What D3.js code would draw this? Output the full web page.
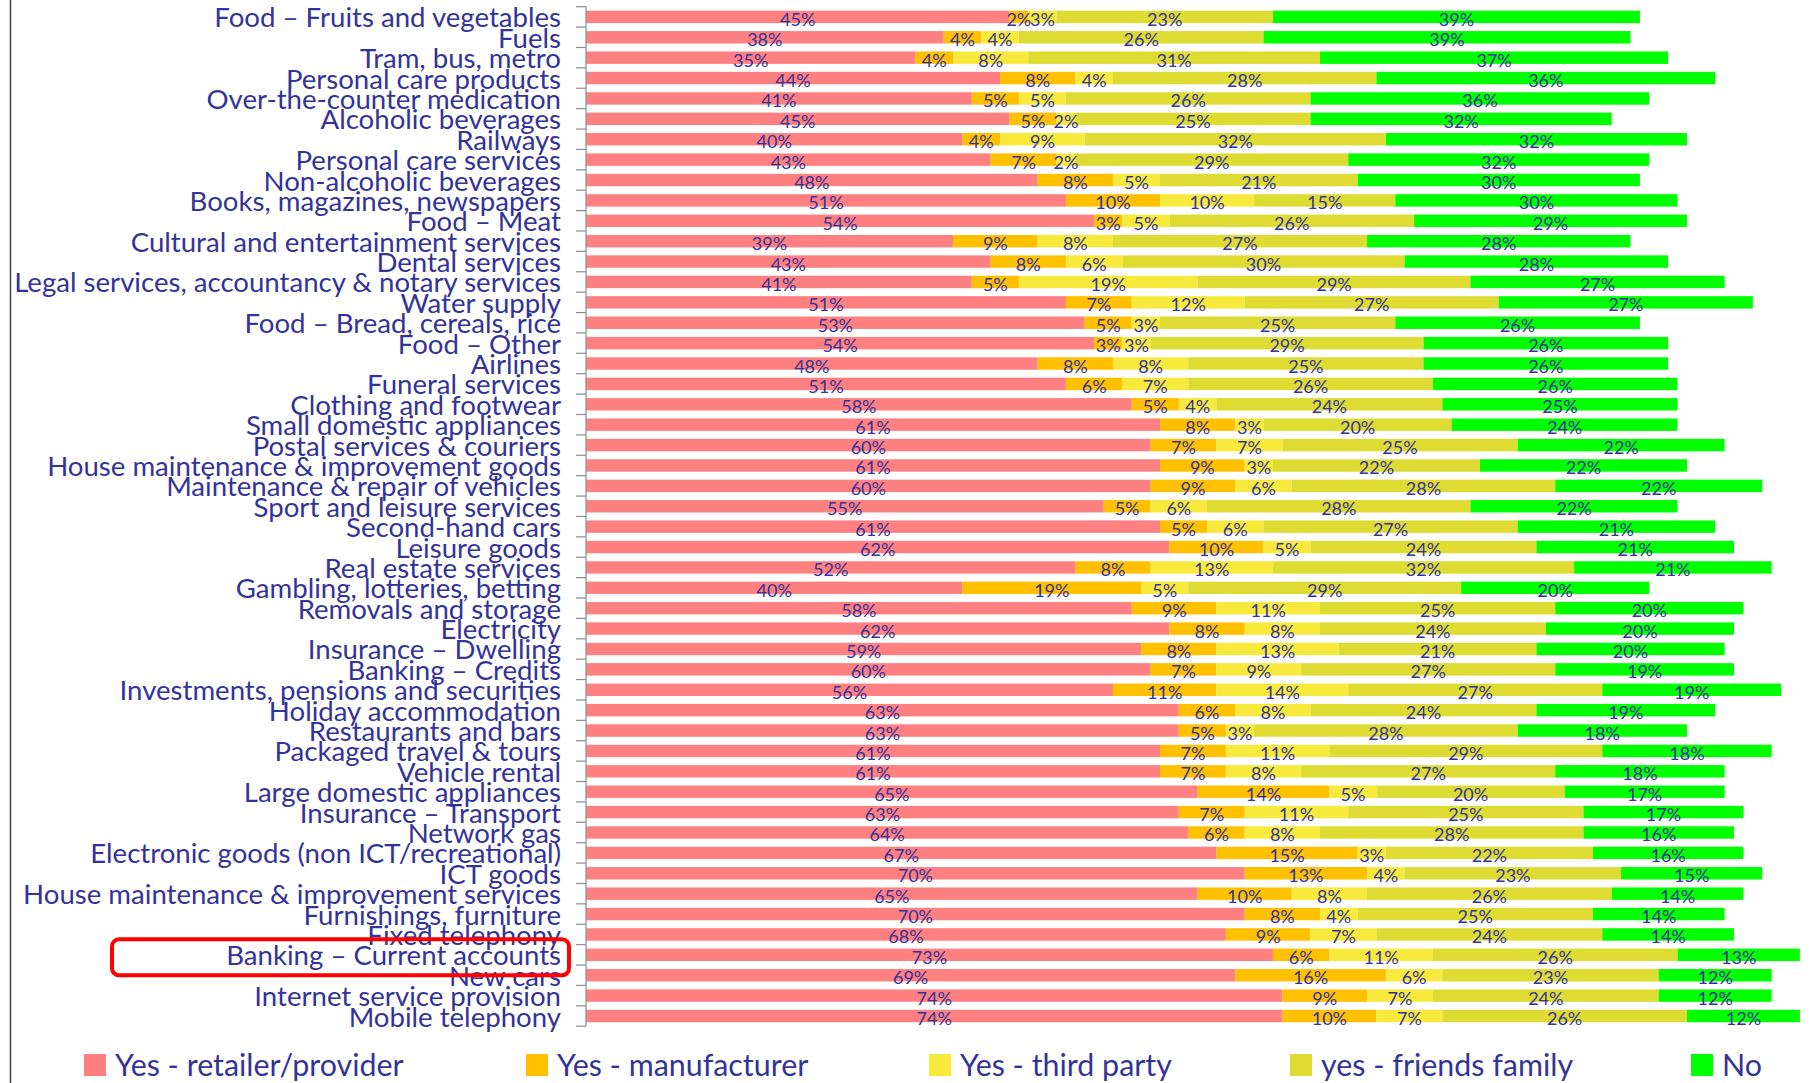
<!DOCTYPE html>
<html>
<head>
<meta charset="utf-8">
<script src="https://cdn.jsdelivr.net/npm/d3@7"></script>
<style>
  html, body { margin: 0; padding: 0; background: #ffffff; }
  svg { display: block; }
</style>
</head>
<body>
<svg id="chart" width="1814" height="1083"></svg>
<script>
// Who people turn to when they have a problem, by market (share of respondents)
const categories = [
  "Food – Fruits and vegetables", "Fuels", "Tram, bus, metro", "Personal care products",
  "Over-the-counter medication", "Alcoholic beverages", "Railways", "Personal care services",
  "Non-alcoholic beverages", "Books, magazines, newspapers", "Food – Meat",
  "Cultural and entertainment services", "Dental services",
  "Legal services, accountancy & notary services", "Water supply", "Food – Bread, cereals, rice",
  "Food – Other", "Airlines", "Funeral services", "Clothing and footwear",
  "Small domestic appliances", "Postal services & couriers", "House maintenance & improvement goods",
  "Maintenance & repair of vehicles", "Sport and leisure services", "Second-hand cars",
  "Leisure goods", "Real estate services", "Gambling, lotteries, betting", "Removals and storage",
  "Electricity", "Insurance – Dwelling", "Banking – Credits", "Investments, pensions and securities",
  "Holiday accommodation", "Restaurants and bars", "Packaged travel & tours", "Vehicle rental",
  "Large domestic appliances", "Insurance – Transport", "Network gas",
  "Electronic goods (non ICT/recreational)", "ICT goods", "House maintenance & improvement services",
  "Furnishings, furniture", "Fixed telephony", "Banking – Current accounts", "New cars",
  "Internet service provision", "Mobile telephony"
];

const retailer      = [45,38,35,44,41,45,40,43,48,51,54,39,43,41,51,53,54,48,51,58,61,60,61,60,55,61,62,52,40,58,62,59,60,56,63,63,61,61,65,63,64,67,70,65,70,68,73,69,74,74];
const manufacturer  = [ 2, 4, 4, 8, 5, 5, 4, 7, 8,10, 3, 9, 8, 5, 7, 5, 3, 8, 6, 5, 8, 7, 9, 9, 5, 5,10, 8,19, 9, 8, 8, 7,11, 6, 5, 7, 7,14, 7, 6,15,13,10, 8, 9, 6,16, 9,10];
const thirdParty    = [ 3, 4, 8, 4, 5, 2, 9, 2, 5,10, 5, 8, 6,19,12, 3, 3, 8, 7, 4, 3, 7, 3, 6, 6, 6, 5,13, 5,11, 8,13, 9,14, 8, 3,11, 8, 5,11, 8, 3, 4, 8, 4, 7,11, 6, 7, 7];
const friendsFamily = [23,26,31,28,26,25,32,29,21,15,26,27,30,29,27,25,29,25,26,24,20,25,22,28,28,27,24,32,29,25,24,21,27,27,24,28,29,27,20,25,28,22,23,26,25,24,26,23,24,26];
const noValues      = [39,39,37,36,36,32,32,32,30,30,29,28,28,27,27,26,26,26,26,25,24,22,22,22,22,21,21,21,20,20,20,20,19,19,19,18,18,18,17,17,16,16,15,14,14,14,13,12,12,12];

const seriesNames  = ["Yes - retailer/provider", "Yes - manufacturer", "Yes - third party", "yes - friends family", "No"];
const seriesValues = [retailer, manufacturer, thirdParty, friendsFamily, noValues];
const seriesColors = ["#FF8080", "#FFC000", "#F8EA3C", "#DEDC33", "#00FF00"];

const highlighted = "Banking – Current accounts";

// ---- layout ----
const textColor = "#333399";
const fontFamily = "Lato, 'Liberation Sans', sans-serif";
const axisX = 586;
const pxPerPoint = 9.41;
const plotTop = 6.7, plotBottom = 1026.2;

const svg = d3.select("#chart");

const rows = categories.map((c, i) => {
  const r = { category: c };
  seriesNames.forEach((s, k) => { r[s] = seriesValues[k][i]; });
  return r;
});

const stacked = d3.stack().keys(seriesNames)(rows);

const x = d3.scaleLinear().domain([0, 130]).range([axisX, axisX + 130 * pxPerPoint]);
const y = d3.scaleBand().domain(categories).range([plotTop, plotBottom])
  .paddingInner(0.39).paddingOuter(0.195);
const step = y.step();
const center = c => y(c) + y.bandwidth() / 2;

// frame line on the left edge
svg.append("line")
  .attr("x1", 10.5).attr("x2", 10.5).attr("y1", 0).attr("y2", 1083)
  .attr("stroke", "#404040").attr("stroke-width", 1.5);

// bars
const layer = svg.append("g").selectAll("g")
  .data(stacked).join("g")
  .attr("fill", (d, i) => seriesColors[i]);

layer.selectAll("rect")
  .data(d => d.map(v => ({ v, cat: v.data.category })))
  .join("rect")
  .attr("x", d => x(d.v[0]))
  .attr("width", d => x(d.v[1]) - x(d.v[0]))
  .attr("y", d => y(d.cat))
  .attr("height", y.bandwidth());

// value labels centred in each segment
const labels = svg.append("g")
  .attr("font-family", fontFamily)
  .attr("font-size", 18)
  .attr("fill", textColor)
  .attr("text-anchor", "middle");

stacked.forEach(s => {
  labels.selectAll(null)
    .data(s)
    .join("text")
    .attr("x", d => (x(d[0]) + x(d[1])) / 2)
    .attr("y", d => center(d.data.category) + 9)
    .text(d => (d[1] - d[0]) + "%");
});

// category axis
const axisG = svg.append("g")
  .attr("transform", `translate(${axisX},0)`)
  .call(d3.axisLeft(y).tickSize(0).tickPadding(25));
axisG.select(".domain").remove();
axisG.selectAll(".tick text")
  .attr("font-family", fontFamily)
  .attr("font-size", 27.6)
  .attr("fill", textColor)
  .attr("dy", null)
  .attr("y", 10.5);

// axis line with ticks on the band boundaries
const boundaries = d3.range(categories.length + 1).map(i => plotTop + i * step);
const axisLine = svg.append("g").attr("stroke", "#8C8C8C").attr("stroke-width", 1.2);
axisLine.append("line")
  .attr("x1", axisX).attr("x2", axisX)
  .attr("y1", plotTop).attr("y2", plotBottom);
axisLine.selectAll(".bt")
  .data(boundaries).join("line")
  .attr("x1", axisX - 10).attr("x2", axisX)
  .attr("y1", d => d).attr("y2", d => d);

// highlight box around one category label
const hc = center(highlighted);
svg.append("rect")
  .attr("x", 112).attr("y", hc - 15.5)
  .attr("width", 457).attr("height", 36)
  .attr("rx", 7).attr("ry", 7)
  .attr("fill", "none").attr("stroke", "#FF0000").attr("stroke-width", 4);

// legend
const legendX = [84, 526, 929, 1290, 1691];
const legend = svg.append("g").attr("font-family", fontFamily).attr("font-size", 30.4).attr("fill", textColor);
const items = legend.selectAll("g").data(seriesNames).join("g")
  .attr("transform", (d, i) => `translate(${legendX[i]},1054)`);
items.append("rect").attr("width", 22).attr("height", 22)
  .attr("fill", (d, i) => seriesColors[i]);
items.append("text").attr("x", 31).attr("y", 21.5).text(d => d);
</script>
</body>
</html>
